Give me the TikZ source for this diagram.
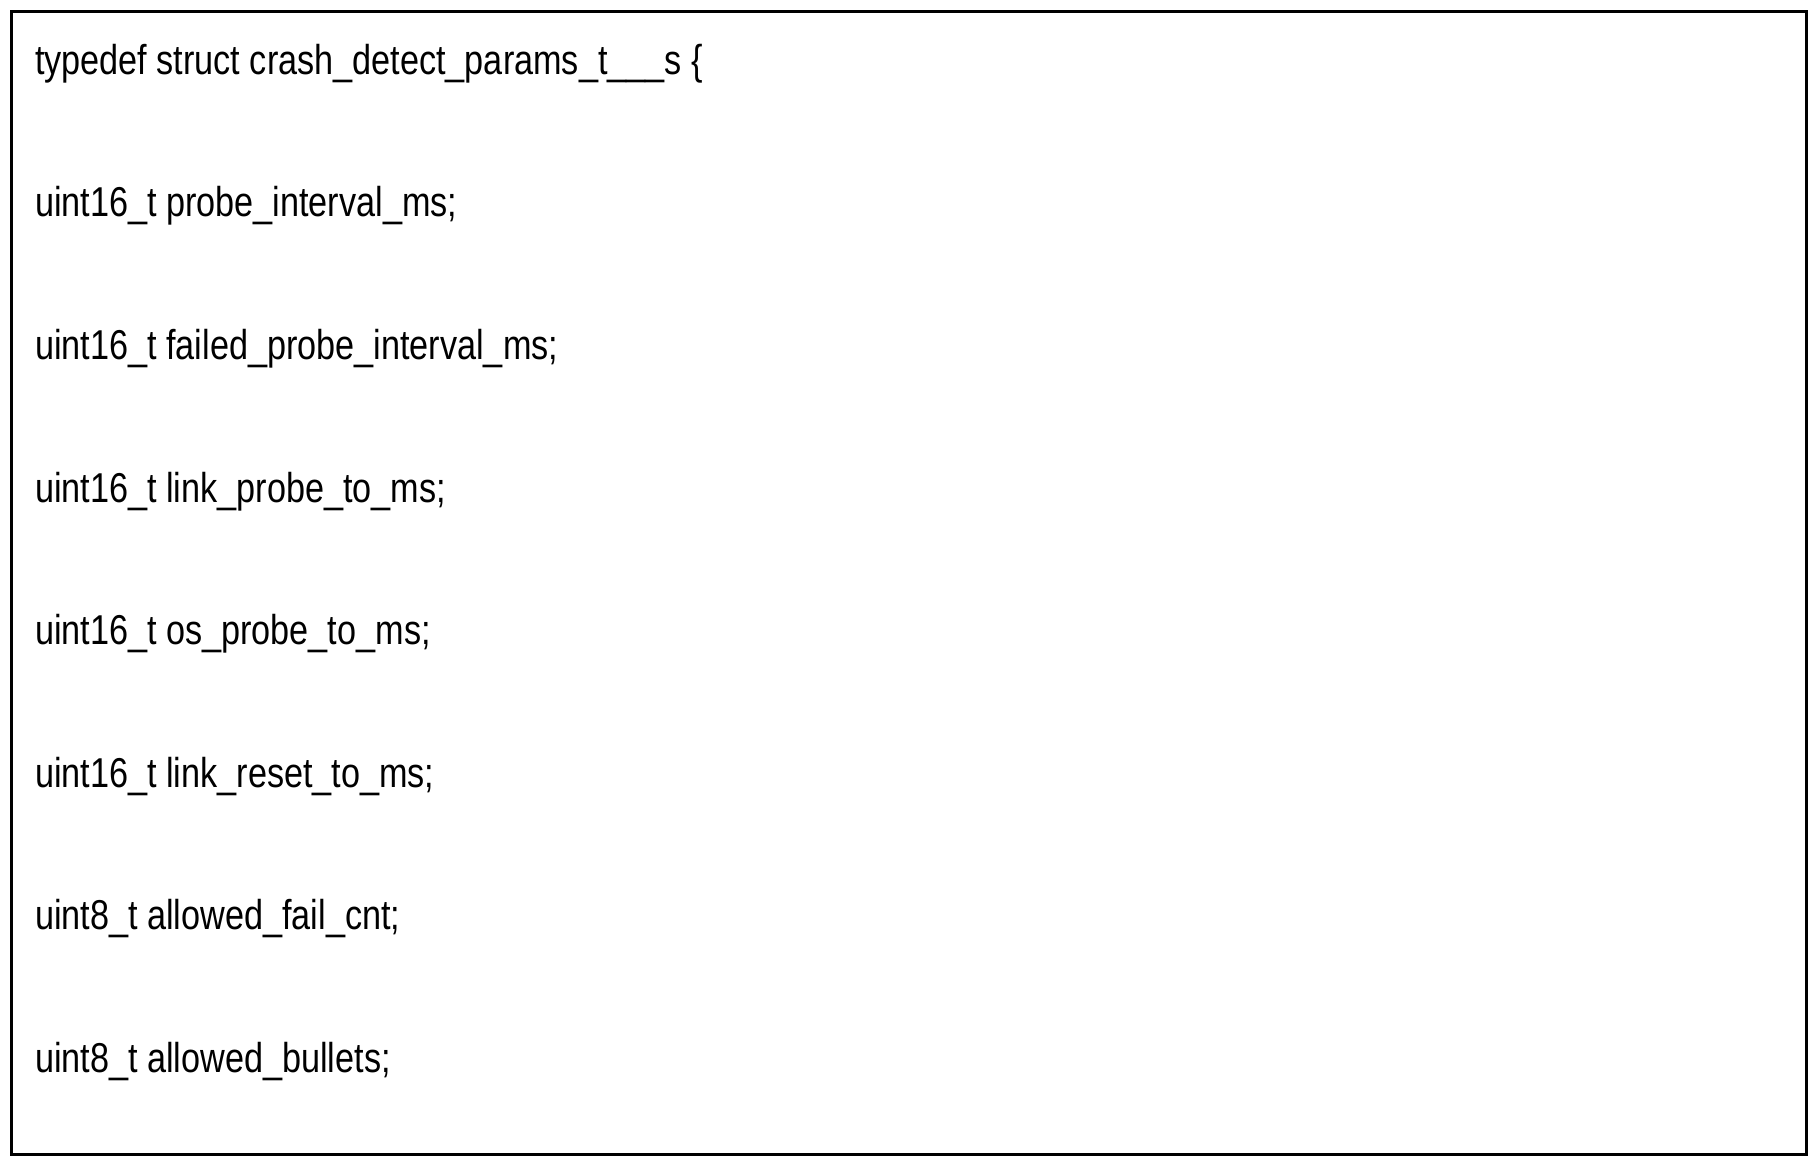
\documentclass[tikz,border=0pt]{standalone}
\usepackage{fontspec}
\setmainfont{Liberation Sans}[FakeStretch=0.82]
\begin{document}
\begin{tikzpicture}[x=1pt,y=-1pt,line/.style={anchor=base west,inner sep=0pt,font=\fontsize{36}{40}\selectfont}]
\useasboundingbox (0,0) rectangle (1568,1004);
\draw[line width=2.5pt] (10,10) rectangle (1558,996);
\node[line] (l0) at (30,64) {typedef struct crash\_detect\_params\_t\_\_\_s \{};
\node[line] (l1) at (30,187) {uint16\_t probe\_interval\_ms;};
\node[line] (l2) at (30,310) {uint16\_t failed\_probe\_interval\_ms;};
\node[line] (l3) at (30,433) {uint16\_t link\_probe\_to\_ms;};
\node[line] (l4) at (30,556) {uint16\_t os\_probe\_to\_ms;};
\node[line] (l5) at (30,679) {uint16\_t link\_reset\_to\_ms;};
\node[line] (l6) at (30,802) {uint8\_t allowed\_fail\_cnt;};
\node[line] (l7) at (30,925) {uint8\_t allowed\_bullets;};
\end{tikzpicture}
\end{document}
